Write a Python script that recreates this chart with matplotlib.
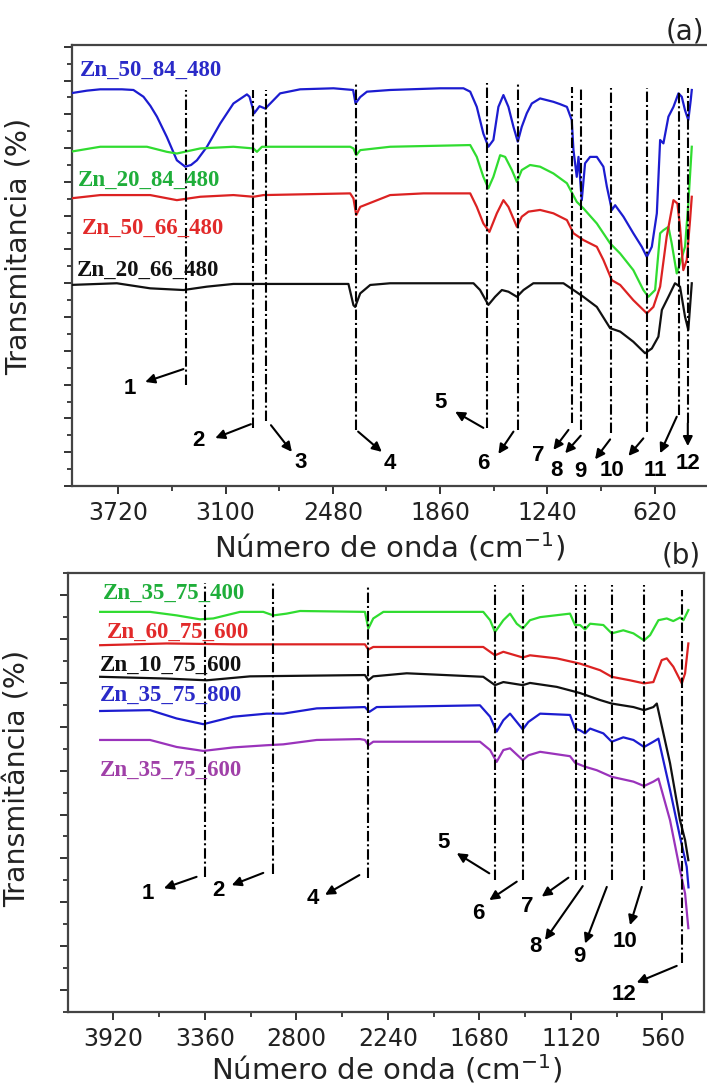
import matplotlib.pyplot as plt
from matplotlib.ticker import FixedLocator

# ---------------- panel (a): samples at 480 ----------------
wn_a_blue = [4000, 3902, 3825, 3700, 3633, 3575, 3535, 3497, 3440, 3382, 3334, 3300, 3266, 3208, 3131,
             3055, 2977, 2962, 2935, 2904, 2871, 2842, 2785, 2669, 2476, 2363, 2349, 2322, 2283, 2149,
             1860, 1725, 1686, 1648, 1610, 1581, 1552, 1523, 1494, 1465, 1436, 1411, 1388, 1359, 1330,
             1282, 1205, 1166, 1127, 1099, 1089, 1070, 1060, 1041, 1022, 993, 954, 916, 896, 867,
             848, 800, 743, 694, 665, 636, 607, 588, 569, 540, 511, 482, 463, 444, 425, 411, 405]
t_a_blue = [11.62, 11.70, 11.74, 11.74, 11.72, 11.52, 11.25, 10.93, 10.33, 9.64, 9.45, 9.50, 9.64, 10.04, 10.73,
            11.32, 11.59, 11.52, 11.03, 11.24, 11.17, 11.32, 11.62, 11.74, 11.77, 11.72, 11.32, 11.51, 11.67, 11.72,
            11.77, 11.77, 11.67, 11.22, 10.43, 10.04, 10.24, 11.22, 11.57, 11.22, 10.63, 10.19, 10.63, 11.03, 11.32,
            11.47, 11.37, 11.30, 11.22, 10.83, 9.94, 9.15, 9.74, 8.46, 9.55, 9.74, 9.74, 9.45, 8.86, 8.17,
            8.31, 7.97, 7.48, 7.08, 6.78, 7.08, 8.07, 10.24, 10.14, 10.93, 11.22, 11.62, 11.52, 11.12, 10.83,
            11.42, 11.72]

wn_a_green = [4000, 3825, 3555, 3440, 3382, 3247, 3055, 2939, 2919, 2890, 2766, 2380, 2361, 2345, 2322,
              2149, 1686, 1648, 1610, 1581, 1552, 1513, 1484, 1445, 1416, 1388, 1340, 1282, 1205, 1127,
              1070, 1032, 954, 877, 819, 743, 685, 656, 617, 588, 569, 540, 521, 492, 473, 444, 425, 405]
t_a_green = [9.89, 10.04, 10.04, 9.89, 9.84, 9.99, 10.04, 9.99, 9.89, 10.04, 10.04, 10.04, 9.99, 9.79, 9.94,
             10.04, 10.09, 9.74, 9.15, 8.81, 9.15, 9.79, 9.74, 9.35, 9.00, 9.35, 9.50, 9.45, 9.25, 8.96,
             8.41, 8.22, 7.77, 7.18, 6.88, 6.39, 5.80, 5.60, 5.80, 7.48, 7.57, 7.67, 7.18, 6.29, 6.59, 7.08,
             8.36, 10.04]

wn_a_red = [4000, 3825, 3536, 3382, 3247, 3055, 2939, 2881, 2380, 2361, 2345, 2322, 2149, 1956, 1686,
            1648, 1610, 1575, 1532, 1494, 1465, 1416, 1388, 1349, 1282, 1205, 1127, 1089, 1032, 954,
            916, 867, 819, 743, 665, 627, 588, 550, 511, 488, 473, 454, 434, 415, 405]
t_a_red = [8.51, 8.61, 8.61, 8.46, 8.56, 8.61, 8.56, 8.61, 8.66, 8.51, 8.02, 8.26, 8.61, 8.66, 8.66,
           8.26, 7.77, 7.52, 8.07, 8.46, 8.26, 7.67, 7.97, 8.12, 8.17, 8.07, 7.87, 7.48, 7.28, 7.08,
           6.69, 6.09, 5.95, 5.50, 5.11, 5.30, 5.90, 7.38, 8.46, 8.36, 7.67, 6.39, 6.69, 7.87, 8.56]

wn_a_black = [4000, 3729, 3536, 3344, 3208, 3055, 2390, 2361, 2351, 2322, 2264, 2149, 1667, 1629, 1581,
              1542, 1503, 1465, 1416, 1378, 1321, 1147, 1089, 1032, 954, 877, 819, 743, 675, 636,
              598, 578, 540, 502, 473, 444, 425, 405]
t_a_black = [5.95, 6.00, 5.85, 5.80, 5.90, 5.98, 5.98, 5.35, 5.30, 5.70, 5.95, 6.00, 6.00, 5.80, 5.36,
             5.60, 5.80, 5.75, 5.60, 5.80, 6.00, 6.00, 5.80, 5.60, 5.30, 4.67, 4.57, 4.27, 3.93, 4.07,
             4.42, 5.21, 5.60, 6.00, 5.90, 5.01, 4.62, 6.00]

# band positions and the extent of their marker lines
peaks_a = [3330, 2939, 2867, 2345, 1590, 1411, 1095, 1047, 873, 665, 478, 428]
peak_top_a = [11.72, 11.72, 11.72, 11.92, 11.92, 11.92, 11.80, 11.80, 11.78, 11.78, 11.72, 11.78]
peak_bot_a = [2.99, 1.72, 1.93, 1.66, 1.72, 1.66, 1.86, 1.66, 1.57, 1.61, 2.10, 1.86]

# ---------------- panel (b): samples at 75 ----------------
wn_b_green = [4000, 3695, 3532, 3389, 3308, 3144, 3002, 2941, 2859, 2777, 2380, 2359, 2329, 2267, 1656,
              1614, 1584, 1533, 1492, 1451, 1414, 1370, 1308, 1125, 1094, 1064, 1033, 1002, 921, 870,
              799, 737, 672, 635, 584, 533, 493, 452, 431, 401]
t_b_green = [9.12, 9.12, 9.04, 8.95, 8.97, 9.12, 9.12, 9.04, 9.08, 9.14, 9.12, 8.74, 8.97, 9.12, 9.12,
             8.93, 8.66, 8.93, 9.08, 8.85, 8.74, 8.93, 9.00, 9.08, 8.82, 8.82, 8.72, 8.85, 8.82, 8.63,
             8.70, 8.63, 8.47, 8.59, 8.93, 8.97, 8.91, 8.99, 8.93, 9.16]

wn_b_red = [4000, 3593, 3186, 2380, 2359, 2329, 1656, 1584, 1533, 1414, 1370, 1206, 1064, 941, 870,
            758, 672, 615, 564, 533, 493, 441, 421, 401]
t_b_red = [8.36, 8.40, 8.38, 8.38, 8.26, 8.32, 8.32, 8.13, 8.21, 8.08, 8.13, 8.06, 7.94, 7.79, 7.64,
           7.56, 7.49, 7.52, 8.02, 8.06, 7.87, 7.49, 7.72, 8.40]

wn_b_black = [4000, 3593, 3348, 3083, 2380, 2359, 2329, 2124, 1656, 1584, 1533, 1414, 1370, 1206, 1064,
              941, 870, 737, 672, 615, 594, 513, 452, 421, 401]
t_b_black = [7.64, 7.60, 7.56, 7.65, 7.68, 7.56, 7.65, 7.72, 7.64, 7.45, 7.52, 7.45, 7.50, 7.41, 7.27,
             7.11, 7.03, 6.95, 6.88, 6.95, 7.03, 5.67, 4.37, 3.92, 3.46]

wn_b_blue = [4000, 3695, 3532, 3369, 3186, 2981, 2880, 2675, 2380, 2353, 2308, 1676, 1614, 1574, 1533,
             1492, 1414, 1380, 1308, 1125, 1094, 1064, 1033, 1002, 921, 870, 799, 737, 672, 615,
             584, 513, 452, 411, 400]
t_b_blue = [6.86, 6.88, 6.69, 6.56, 6.73, 6.80, 6.80, 6.92, 6.95, 6.84, 6.95, 6.99, 6.73, 6.39, 6.65,
            6.80, 6.44, 6.61, 6.80, 6.77, 6.46, 6.42, 6.35, 6.46, 6.35, 6.16, 6.26, 6.20, 6.04, 6.16,
            6.23, 5.06, 3.99, 3.31, 2.84]

wn_b_purple = [4000, 3695, 3532, 3369, 3186, 2981, 2880, 2675, 2410, 2380, 2359, 2329, 1676, 1614, 1574,
               1533, 1492, 1414, 1380, 1308, 1125, 1094, 1033, 961, 870, 737, 672, 615, 584, 513,
               452, 421, 401]
t_b_purple = [6.20, 6.20, 6.04, 5.95, 6.03, 6.08, 6.10, 6.20, 6.22, 6.20, 6.08, 6.16, 6.16, 5.97, 5.70,
              5.97, 6.01, 5.74, 5.85, 5.93, 5.83, 5.68, 5.59, 5.51, 5.36, 5.25, 5.15, 5.25, 5.32, 4.37,
              3.23, 2.70, 1.91]

peaks_b = [3360, 2944, 2359, 1584, 1414, 1088, 1033, 870, 672, 438]
peak_top_b = [9.77, 9.80, 9.73, 9.73, 9.73, 9.73, 9.73, 9.73, 9.73, 9.61]
peak_bot_b = [3.08, 3.14, 3.05, 3.00, 3.00, 3.00, 3.00, 3.00, 3.00, 1.11]

# band numbers: (text, text position, arrow tail, arrow head)
ann_a = [('1', (3652, 2.90), (3344, 3.46), (3565, 3.08)),
         ('2', (3260, 1.36), (2954, 1.83), (3160, 1.42)),
         ('3', (2669, 0.69), (2838, 1.80), (2717, 1.01)),
         ('4', (2149, 0.68), (2334, 1.61), (2197, 1.01)),
         ('5', (1860, 2.46), (1610, 1.72), (1773, 2.20)),
         ('6', (1610, 0.68), (1436, 1.61), (1523, 0.95)),
         ('7', (1292, 0.89), (1118, 1.66), (1205, 1.07)),
         ('8', (1185, 0.47), (1047, 1.49), (1137, 0.97)),
         ('9', (1047, 0.42), (877, 1.38), (964, 0.79)),
         ('10', (867, 0.45), (685, 1.41), (771, 0.89)),
         ('11', (617, 0.47), (492, 2.05), (588, 0.97)),
         ('12', (425, 0.67), (428, 1.86), (428, 1.18))]
ann_b = [('1', (3706, 2.70), (3410, 3.08), (3610, 2.82)),
         ('2', (3277, 2.76), (3002, 3.17), (3195, 2.89)),
         ('4', (2696, 2.59), (2414, 3.12), (2624, 2.67)),
         ('5', (1900, 3.86), (1619, 3.16), (1818, 3.62)),
         ('6', (1686, 2.25), (1451, 2.97), (1619, 2.55)),
         ('7', (1386, 2.41), (1135, 3.06), (1298, 2.63)),
         ('8', (1339, 1.50), (1047, 2.87), (1278, 1.64)),
         ('9', (1068, 1.26), (900, 2.85), (1033, 1.56)),
         ('10', (788, 1.60), (686, 2.85), (758, 1.98)),
         ('12', (794, 0.40), (472, 1.05), (717, 0.67))]

C_BLUE, C_GREEN, C_RED, C_BLACK, C_PURPLE = '#1c1cd0', '#30dc30', '#dc2222', '#111111', '#9a33bb'

series_a = [('Zn_50_84_480', wn_a_blue, t_a_blue, C_BLUE, '#2a2ac8', (3941, 12.31)),
            ('Zn_20_84_480', wn_a_green, t_a_green, C_GREEN, '#1fae3a', (3952, 9.05)),
            ('Zn_50_66_480', wn_a_red, t_a_red, C_RED, '#e22a2a', (3929, 7.63)),
            ('Zn_20_66_480', wn_a_black, t_a_black, C_BLACK, '#111111', (3958, 6.39))]
series_b = [('Zn_35_75_400', wn_b_green, t_b_green, C_GREEN, '#1fae3a', (3983, 9.54)),
            ('Zn_60_75_600', wn_b_red, t_b_red, C_RED, '#e22a2a', (3958, 8.66)),
            ('Zn_10_75_600', wn_b_black, t_b_black, C_BLACK, '#111111', (4000, 7.90)),
            ('Zn_35_75_800', wn_b_blue, t_b_blue, C_BLUE, '#2a2ac8', (4000, 7.22)),
            ('Zn_35_75_600', wn_b_purple, t_b_purple, C_PURPLE, '#a040a8', (4000, 5.51))]

DASHDOT = (0, (5, 1.4, 1, 1.4))


def draw_panel(ax, series, peaks, tops, bots, notes):
    for name, wn, t, col, tcol, pos in series:
        xs, ys = zip(*zip(wn, t, strict=True))
        ax.plot(xs, ys, color=col, lw=1.6, zorder=3)
        ax.text(pos[0], pos[1], name, color=tcol, fontsize=16.5, fontweight='bold',
                family='Liberation Serif', ha='left', va='center', zorder=5)
    for p, t0, t1 in zip(peaks, tops, bots):
        ax.plot([p, p], [t1, t0], color='black', lw=1.5, ls=DASHDOT, zorder=4)
    for lab, tpos, tail, head in notes:
        ax.annotate('', xy=head, xytext=tail,
                    arrowprops=dict(arrowstyle='-|>', color='black', lw=1.5,
                                    mutation_scale=14, shrinkA=0, shrinkB=0))
        ax.text(tpos[0], tpos[1], lab, fontsize=16, fontweight='bold', family='Liberation Sans',
                ha='center', va='center')


def style_axes(ax, xmaj, xmin, ymaj, ymin):
    ax.xaxis.set_major_locator(FixedLocator(xmaj))
    ax.xaxis.set_minor_locator(FixedLocator(xmin))
    ax.yaxis.set_major_locator(FixedLocator(ymaj))
    ax.yaxis.set_minor_locator(FixedLocator(ymin))
    ax.set_xticklabels([str(v) for v in xmaj])
    ax.tick_params(which='major', direction='out', length=6, width=1.4, labelsize=17,
                   pad=5, color='#333333', labelcolor='#222222', labelleft=False)
    ax.tick_params(which='minor', direction='out', length=3.5, width=1.3, color='#333333')
    for s in ax.spines.values():
        s.set_linewidth(1.6)
        s.set_color('#444444')


fig = plt.figure(figsize=(7.07, 10.88), dpi=100)

ax1 = fig.add_axes([0.1014, 0.5533, 0.8986, 0.4053])
draw_panel(ax1, series_a, peaks_a, peak_top_a, peak_bot_a, ann_a)
ax1.set_xlim(3990, 317)
ax1.set_ylim(0, 13.05)
style_axes(ax1, [3720, 3100, 2480, 1860, 1240, 620], [3410, 2790, 2170, 1550, 930],
           list(range(0, 14)), [k + 0.5 for k in range(13)])
ax1.spines['right'].set_visible(False)
ax1.set_ylabel('Transmitancia (%)', fontsize=20.5, color='#222222')
ax1.yaxis.set_label_coords(-0.062, 0.543)
ax1.set_xlabel('Número de onda (cm$^{-1}$)', fontsize=21, color='#222222')
ax1.xaxis.set_label_coords(0.5, -0.1)
fig.text(0.969, 0.971, '(a)', fontsize=20, ha='center', va='center', color='#222222')

ax2 = fig.add_axes([0.0966, 0.0699, 0.8992, 0.4032])
draw_panel(ax2, series_b, peaks_b, peak_top_b, peak_bot_b, ann_b)
ax2.set_xlim(4195, 305)
ax2.set_ylim(0, 10)
style_axes(ax2, [3920, 3360, 2800, 2240, 1680, 1120, 560], [4200, 3640, 3080, 2520, 1960, 1400, 840],
           [k + 0.5 for k in range(10)], list(range(0, 11)))
ax2.set_ylabel('Transmitância (%)', fontsize=20.5, color='#222222')
ax2.yaxis.set_label_coords(-0.058, 0.533)
ax2.set_xlabel('Número de onda (cm$^{-1}$)', fontsize=21, color='#222222')
ax2.xaxis.set_label_coords(0.5, -0.093)
fig.text(0.963, 0.489, '(b)', fontsize=20, ha='center', va='center', color='#222222')

fig.savefig('out.png', dpi=100)
